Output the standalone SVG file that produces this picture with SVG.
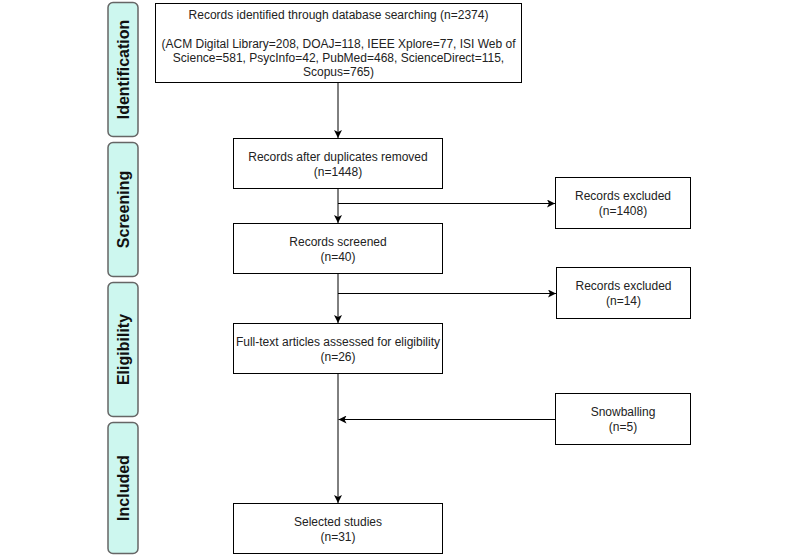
<svg xmlns="http://www.w3.org/2000/svg" width="800" height="556" viewBox="0 0 800 556">
<defs>
<style>
.lane{fill:#cdf7ef;stroke:#666;stroke-width:1.5}
.lt{font-family:"Liberation Sans",Arial,sans-serif;font-size:16px;font-weight:bold;fill:#111;text-anchor:middle}
.box{fill:#fff;stroke:#000;stroke-width:1}
.t{font-family:"Liberation Sans",Arial,sans-serif;font-size:12px;fill:#222;text-anchor:middle}
.c{fill:none;stroke:#000;stroke-width:1}
</style>
<marker id="arr" viewBox="0 0 10 10" refX="10" refY="5" markerWidth="8" markerHeight="8" markerUnits="userSpaceOnUse" orient="auto">
<path d="M0,0 L10,5 L0,10 L2.5,5 Z" fill="#000"/>
</marker>
</defs>
<rect width="800" height="556" fill="#fff"/>
<g id="lane-identification"><rect class="lane" x="108" y="2.5" width="30" height="134" rx="5"/><text class="lt" transform="translate(129,69.5) rotate(-90)">Identification</text></g>
<g id="lane-screening"><rect class="lane" x="108" y="142.5" width="30" height="134" rx="5"/><text class="lt" transform="translate(129,209.5) rotate(-90)">Screening</text></g>
<g id="lane-eligibility"><rect class="lane" x="108" y="282.5" width="30" height="134" rx="5"/><text class="lt" transform="translate(129,349.5) rotate(-90)">Eligibility</text></g>
<g id="lane-included"><rect class="lane" x="108" y="422.5" width="30" height="131" rx="5"/><text class="lt" transform="translate(129,488) rotate(-90)">Included</text></g>
<g id="connectors">
<line class="c" x1="338" y1="83" x2="338" y2="138" marker-end="url(#arr)"/>
<line class="c" x1="338" y1="189" x2="338" y2="223" marker-end="url(#arr)"/>
<line class="c" x1="338" y1="274" x2="338" y2="323" marker-end="url(#arr)"/>
<line class="c" x1="338" y1="374" x2="338" y2="503" marker-end="url(#arr)"/>
<line class="c" x1="338" y1="203.5" x2="555" y2="203.5" marker-end="url(#arr)"/>
<line class="c" x1="338" y1="293.5" x2="556" y2="293.5" marker-end="url(#arr)"/>
<line class="c" x1="555" y1="419.5" x2="338.5" y2="419.5" marker-end="url(#arr)"/>
</g>
<g id="identified"><rect class="box" x="155.5" y="3.5" width="366" height="79"/>
<text class="t" x="338.5" y="19">Records identified through database searching (n=2374)</text>
<text class="t" x="338.5" y="47.5">(ACM Digital Library=208, DOAJ=118, IEEE Xplore=77, ISI Web of</text>
<text class="t" x="338.5" y="61.8">Science=581, PsycInfo=42, PubMed=468, ScienceDirect=115,</text>
<text class="t" x="338.5" y="76">Scopus=765)</text></g>
<g id="dedup"><rect class="box" x="233.5" y="138.5" width="209" height="50"/>
<text class="t" x="338" y="161">Records after duplicates removed</text><text class="t" x="338" y="175.5">(n=1448)</text></g>
<g id="screened"><rect class="box" x="233.5" y="223.5" width="209" height="50"/>
<text class="t" x="338" y="246">Records screened</text><text class="t" x="338" y="260.5">(n=40)</text></g>
<g id="fulltext"><rect class="box" x="233.5" y="323.5" width="209" height="50"/>
<text class="t" x="338" y="346">Full-text articles assessed for eligibility</text><text class="t" x="338" y="360.5">(n=26)</text></g>
<g id="selected"><rect class="box" x="233.5" y="503.5" width="209" height="50"/>
<text class="t" x="338" y="526">Selected studies</text><text class="t" x="338" y="540.5">(n=31)</text></g>
<g id="excluded1"><rect class="box" x="555.5" y="177.5" width="135" height="51"/>
<text class="t" x="623" y="200">Records excluded</text><text class="t" x="623" y="214.5">(n=1408)</text></g>
<g id="excluded2"><rect class="box" x="556.5" y="267.5" width="134" height="51"/>
<text class="t" x="623.5" y="290">Records excluded</text><text class="t" x="623.5" y="304.5">(n=14)</text></g>
<g id="snowballing"><rect class="box" x="555.5" y="393.5" width="135" height="51"/>
<text class="t" x="623" y="416">Snowballing</text><text class="t" x="623" y="430.5">(n=5)</text></g>
</svg>
